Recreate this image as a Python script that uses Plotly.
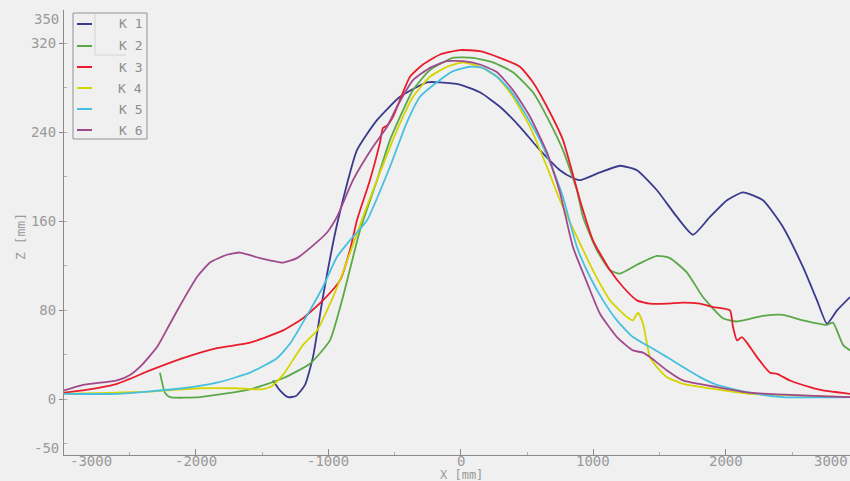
import plotly.graph_objects as go

# Profile sections K1..K6: horizontal position X [mm] and height Z [mm]
k1_x = [-1419, -1366, -1306, -1245, -1177, -1117, -1042, -936, -785, -634, -460, -257, -158, -8,
        143, 294, 445, 596, 747, 845, 898, 1049, 1200, 1328, 1479, 1630, 1751, 1879, 2008, 2128,
        2279, 2430, 2581, 2687, 2762, 2838, 2936]
k1_z = [17, 8, 2, 3, 13, 38, 92, 157, 224, 251, 272, 285, 285, 283,
        276, 263, 245, 224, 206, 199, 197, 204, 210, 206, 188, 164, 148, 164, 179, 186,
        179, 155, 119, 89, 68, 80, 92]

k2_x = [-2272, -2234, -2196, -1970, -1592, -1343, -1140, -989, -891, -762, -634, -536, -362, -234,
        -60, 91, 242, 392, 543, 649, 770, 875, 921, 1026, 1125, 1200, 1328, 1479, 1577, 1706,
        1826, 1977, 2083, 2279, 2430, 2581, 2762, 2808, 2883, 2936]
k2_z = [24, 6, 2, 2, 9, 19, 32, 53, 92, 152, 197, 233, 278, 296,
        307, 307, 303, 294, 276, 254, 224, 188, 164, 134, 116, 113, 121, 129, 127, 114,
        92, 73, 70, 75, 76, 71, 67, 69, 49, 44]

k3_x = [-2996, -2853, -2596, -2347, -2098, -1842, -1592, -1343, -1192, -1042, -913, -838, -785,
        -687, -611, -589, -558, -513, -385, -287, -158, -8, 143, 294, 445, 543, 649, 770, 898,
        996, 1125, 1223, 1328, 1426, 1555, 1675, 1804, 1902, 2030, 2053, 2083, 2121, 2158, 2234,
        2332, 2385, 2483, 2634, 2732, 2936]
k3_z = [6, 8, 14, 26, 37, 46, 51, 62, 73, 89, 107, 134, 161,
        197, 231, 244, 246, 254, 290, 301, 310, 314, 313, 307, 299, 285, 263, 233, 179,
        143, 116, 101, 89, 86, 86, 87, 86, 83, 80, 65, 53, 56, 51, 38,
        24, 23, 17, 11, 8, 5]

k4_x = [-2996, -2347, -1970, -1706, -1502, -1426, -1343, -1192, -1087, -966, -891, -740, -611,
        -483, -362, -234, -106, 15, 143, 272, 392, 521, 649, 747, 875, 996, 1125, 1253, 1298,
        1336, 1374, 1426, 1479, 1555, 1675, 1932, 2181, 2430, 2936]
k4_z = [5, 7, 10, 10, 9, 12, 22, 49, 62, 92, 114, 164, 204,
        242, 272, 290, 299, 303, 299, 290, 272, 245, 209, 179, 146, 116, 89, 74, 71,
        78, 68, 38, 29, 20, 14, 9, 5, 4, 2]

k5_x = [-2996, -2596, -2098, -1842, -1592, -1389, -1291, -1140, -1042, -936, -838, -709, -536,
        -408, -309, -181, -60, 68, 166, 272, 370, 468, 596, 725, 770, 875, 974, 1072, 1177,
        1298, 1426, 1555, 1675, 1804, 1932, 2181, 2430, 2936]
k5_z = [5, 5, 10, 15, 24, 37, 50, 80, 101, 128, 143, 161, 209,
        249, 272, 285, 295, 299, 298, 290, 278, 260, 233, 197, 182, 137, 110, 89, 71,
        56, 47, 38, 29, 20, 13, 6, 2, 2]

k6_x = [-2996, -2853, -2596, -2498, -2400, -2294, -2196, -2098, -1992, -1894, -1766, -1668, -1517,
        -1343, -1238, -1140, -1011, -936, -815, -664, -558, -483, -362, -234, -106, 15, 143,
        272, 392, 521, 649, 747, 845, 951, 1049, 1177, 1298, 1374, 1426, 1555, 1675, 1932,
        2181, 2936]
k6_z = [8, 13, 17, 22, 32, 47, 68, 89, 110, 123, 130, 132, 127,
        123, 127, 136, 150, 164, 197, 227, 245, 263, 287, 298, 304, 304, 301,
        294, 278, 254, 222, 186, 137, 105, 77, 56, 44, 42, 38, 26, 17, 11,
        6, 2]

names = ["K 1", "K 2", "K 3", "K 4", "K 5", "K 6"]
colors = ["#3a3a8e", "#5aa848", "#e81c2c", "#d6d400", "#46c0de", "#a04a8c"]
series = [(k1_x, k1_z), (k2_x, k2_z), (k3_x, k3_z), (k4_x, k4_z), (k5_x, k5_z), (k6_x, k6_z)]

x_ticks = [-2000, -1000, 0, 1000, 2000]
y_ticks = [0, 80, 160, 240, 320]

BG = "#f0f0f0"
AXIS = "#8a8a8a"
LABEL = "#9a9a9a"
MONO = "DejaVu Sans Mono"

fig = go.Figure()
for name, color, (xs, zs) in zip(names, colors, series):
    fig.add_trace(go.Scatter(x=xs, y=zs, mode="lines", name=name, showlegend=False,
                             line=dict(color=color, width=1.8, shape="spline", smoothing=0.5)))

W, H = 850, 481
ML, MR, MT, MB = 64, 0, 10, 26
PW, PH = W - ML - MR, H - MT - MB


def px(xp):
    return (xp - ML) / PW


def py(yp):
    return 1 - (yp - MT) / PH


def label(xp, yp, text, size=14, xanchor="center", angle=0, color=LABEL):
    fig.add_annotation(x=px(xp), y=py(yp), xref="paper", yref="paper", text=text,
                       xanchor=xanchor, yanchor="middle", textangle=angle, borderpad=0,
                       showarrow=False, font=dict(family=MONO, size=size, color=color))


fig.update_layout(
    width=W, height=H,
    margin=dict(l=ML, r=MR, t=MT, b=MB),
    paper_bgcolor=BG, plot_bgcolor=BG,
    showlegend=False,
)

fig.update_xaxes(
    range=[-2996, 2936], showgrid=False, zeroline=False,
    showline=True, linecolor=AXIS, linewidth=1,
    tickvals=x_ticks, showticklabels=False,
    ticks="inside", ticklen=6, tickcolor=AXIS,
    minor=dict(dtick=500, tick0=0, ticks="inside", ticklen=3, tickcolor="#b0b0b0"),
)
fig.update_yaxes(
    range=[-50, 350], showgrid=False, zeroline=False,
    showline=True, linecolor=AXIS, linewidth=1,
    tickvals=y_ticks, ticktext=[str(v) for v in y_ticks],
    ticks="outside", ticklen=4, tickcolor=AXIS,
    tickfont=dict(family=MONO, size=14, color=LABEL),
    minor=dict(dtick=40, tick0=0, ticks="inside", ticklen=3, tickcolor="#b0b0b0"),
)

# X tick labels, placed on the data scale just under the axis line
for v in x_ticks:
    fig.add_annotation(x=v, xref="x", y=py(461), yref="paper", text=str(v),
                       xanchor="center", yanchor="middle", showarrow=False, borderpad=0,
                       font=dict(family=MONO, size=14, color=LABEL))

# End labels of both axes, kept inside the frame
label(91, 461, "-3000", size=14)
label(831, 461, "3000", size=14)
label(60, 19, "350", xanchor="right")
label(60, 448, "-50", xanchor="right")

# Axis titles
label(20, 237, "Z [mm]", size=13, angle=-90)
label(461, 475, "X [mm]", size=12)

# Legend box with short line samples
fig.add_shape(type="rect", xref="paper", yref="paper",
              x0=px(73), x1=px(147), y0=py(139), y1=py(13),
              line=dict(color="#909090", width=1), fillcolor=BG)
fig.add_shape(type="line", xref="paper", yref="paper", x0=px(95), x1=px(95), y0=py(55), y1=py(14),
              line=dict(color="#d4d4d4", width=1))
fig.add_shape(type="line", xref="paper", yref="paper", x0=px(95), x1=px(126), y0=py(55), y1=py(55),
              line=dict(color="#d4d4d4", width=1))
row_y = [24, 46, 67, 88, 109, 130]
for name, color, yy in zip(names, colors, row_y):
    fig.add_shape(type="line", xref="paper", yref="paper",
                  x0=px(77), x1=px(92), y0=py(yy), y1=py(yy),
                  line=dict(color=color, width=2))
    label(143, yy, name, size=13, xanchor="right", color="#8c8c8c")

fig.write_html("out.html")
